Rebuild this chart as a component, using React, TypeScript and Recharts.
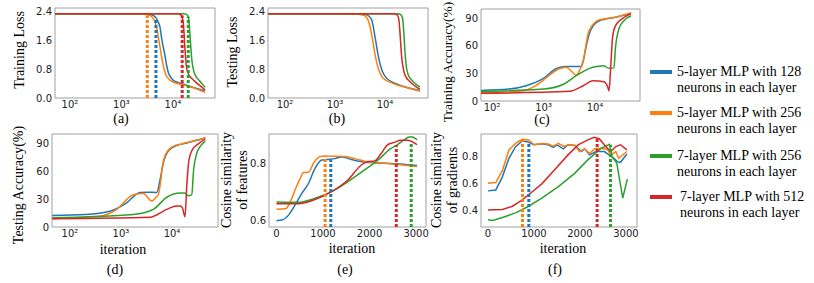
import React from "react";
import { LineChart, Line, XAxis, YAxis, ReferenceLine, ReferenceArea } from "recharts";

type Pt = [number, number];

const seriesNames = [
  ["5-layer MLP with 128", "neurons in each layer"],
  ["5-layer MLP with 256", "neurons in each layer"],
  ["7-layer MLP with 256", "neurons in each layer"],
  ["7-layer MLP with 512", "neurons in each layer"],
];
const seriesColors = ["#1f77b4", "#ff7f0e", "#2ca02c", "#d62728"];

// (a) training loss vs iteration (log x)
const trainLossBlue: Pt[] = [[50, 2.33], [1000, 2.33], [3000, 2.32], [3800, 2.3], [4300, 2.27], [5000, 2.15], [5600, 1.96], [6100, 1.6], [6900, 1.22], [7500, 0.92], [8100, 0.71], [9000, 0.58], [10000, 0.5], [12500, 0.43], [15700, 0.39], [24000, 0.3], [33000, 0.24], [42000, 0.19]];
const trainLossOrange: Pt[] = [[50, 2.33], [1000, 2.33], [2700, 2.32], [3300, 2.3], [3800, 2.26], [4400, 2.13], [4900, 1.9], [5400, 1.55], [6000, 1.15], [6600, 0.85], [7200, 0.66], [8000, 0.55], [9000, 0.48], [11000, 0.42], [15000, 0.37], [24000, 0.29], [33000, 0.22], [42000, 0.16]];
const trainLossGreen: Pt[] = [[50, 2.33], [5000, 2.33], [16000, 2.33], [18000, 2.32], [19500, 2.27], [20500, 2.1], [21500, 1.7], [22500, 1.3], [23500, 1.0], [25000, 0.78], [28000, 0.6], [33000, 0.47], [38000, 0.37], [42000, 0.3]];
const trainLossRed: Pt[] = [[50, 2.33], [5000, 2.33], [12600, 2.33], [14000, 2.31], [15000, 2.24], [15900, 2.05], [16500, 1.75], [17000, 1.4], [17700, 1.1], [18300, 0.85], [19500, 0.7], [21300, 0.6], [25000, 0.5], [28700, 0.42], [35000, 0.32], [42000, 0.22]];
// dotted markers: [iteration, top value], order blue, orange, green, red
const trainLossMarks: Pt[] = [[4670, 2.19], [3170, 2.28], [19800, 2.25], [15100, 2.28]];

// (b) testing loss
const testLossBlue: Pt[] = [[46, 2.33], [1000, 2.33], [3000, 2.32], [4300, 2.3], [5400, 2.16], [6300, 1.7], [7400, 1.14], [8600, 0.78], [10700, 0.55], [17000, 0.39], [31600, 0.27], [50000, 0.2]];
const testLossOrange: Pt[] = [[46, 2.33], [1000, 2.33], [2800, 2.32], [3800, 2.29], [4700, 2.12], [5500, 1.7], [6400, 1.16], [7400, 0.8], [9000, 0.56], [14000, 0.41], [30000, 0.27], [50000, 0.19]];
const testLossGreen: Pt[] = [[46, 2.33], [5000, 2.33], [18000, 2.33], [20500, 2.31], [22500, 2.2], [23800, 1.8], [25000, 1.3], [26500, 0.9], [29000, 0.65], [33000, 0.52], [40000, 0.4], [50000, 0.3]];
const testLossRed: Pt[] = [[46, 2.33], [5000, 2.33], [15000, 2.33], [17500, 2.3], [19000, 2.15], [19500, 1.98], [20500, 1.55], [21500, 1.14], [23000, 0.85], [25000, 0.64], [31600, 0.45], [40000, 0.33], [50000, 0.24]];

// (c) training accuracy
const trainAccBlue: Pt[] = [[61, 11.5], [215, 13], [460, 16.6], [960, 24], [1750, 35], [2700, 37.5], [5400, 37.5], [6000, 45], [6700, 59], [8400, 78], [12000, 87], [25000, 91], [50000, 95]];
const trainAccOrange: Pt[] = [[61, 9], [340, 10.5], [620, 14.8], [960, 22], [2000, 35], [2750, 36.8], [3400, 33], [4300, 28], [5000, 33], [5900, 44], [7600, 76], [12000, 88], [25000, 91], [50000, 96]];
const trainAccGreen: Pt[] = [[61, 10.5], [1000, 13], [2500, 18.5], [4300, 27.5], [9100, 36.6], [14500, 38.4], [18700, 35.5], [23300, 36], [25000, 58], [29000, 78], [36000, 87], [50000, 92.7]];
const trainAccRed: Pt[] = [[61, 8.4], [3200, 10.5], [5900, 16.6], [9100, 22], [15000, 21], [17700, 15], [18700, 11], [20000, 33], [22000, 70], [25000, 82], [33000, 89], [50000, 95]];

// (d) testing accuracy
const testAccBlue: Pt[] = [[45, 12.4], [200, 13.5], [605, 17], [1290, 26], [2350, 37], [3500, 37.5], [5000, 37], [5800, 50], [6700, 68], [8900, 83], [13000, 88], [18600, 90], [45000, 95.6]];
const testAccOrange: Pt[] = [[45, 9], [390, 11.7], [830, 19], [1740, 34.7], [2750, 36], [4000, 28], [4700, 31], [5400, 35], [6100, 52], [6700, 70], [8900, 84], [13000, 88.5], [18600, 90.5], [45000, 96]];
const testAccGreen: Pt[] = [[45, 10], [1740, 13.5], [4300, 19], [7900, 32], [14500, 36.5], [17800, 36.5], [21000, 33.6], [24400, 34.7], [26500, 61], [30500, 79], [36000, 87], [45000, 92]];
const testAccRed: Pt[] = [[45, 9], [3700, 10.6], [7900, 19], [12300, 22.6], [14500, 22.6], [16000, 20.5], [17200, 14], [18000, 11], [19500, 45], [21500, 72], [25000, 83], [30500, 88], [45000, 94.5]];

// (e) cosine similarity of features
const featBlue: Pt[] = [[0, 0.601], [120, 0.603], [260, 0.62], [400, 0.655], [545, 0.695], [690, 0.73], [830, 0.782], [970, 0.81], [1075, 0.812], [1255, 0.815], [1400, 0.821], [1610, 0.812], [1894, 0.803], [2180, 0.8], [2600, 0.797], [2800, 0.794], [3020, 0.791]];
const featOrange: Pt[] = [[0, 0.64], [200, 0.642], [300, 0.667], [400, 0.707], [510, 0.747], [580, 0.767], [690, 0.768], [795, 0.799], [940, 0.822], [1050, 0.824], [1470, 0.822], [1680, 0.815], [1890, 0.806], [2250, 0.8], [2600, 0.795], [3020, 0.788]];
const featGreen: Pt[] = [[0, 0.665], [470, 0.664], [830, 0.678], [1184, 0.701], [1540, 0.736], [1894, 0.776], [2180, 0.81], [2460, 0.85], [2570, 0.86], [2745, 0.88], [2850, 0.89], [2920, 0.89], [3020, 0.88]];
const featRed: Pt[] = [[0, 0.659], [470, 0.659], [830, 0.674], [1184, 0.701], [1540, 0.742], [1823, 0.793], [1965, 0.805], [2110, 0.807], [2250, 0.833], [2390, 0.863], [2530, 0.871], [2670, 0.878], [2810, 0.878], [3020, 0.863]];
const featMarks: Pt[] = [[1167, 0.812], [1045, 0.822], [2895, 0.868], [2574, 0.862]];

// (f) cosine similarity of gradients
const gradBlue: Pt[] = [[0, 0.548], [170, 0.555], [315, 0.654], [455, 0.79], [600, 0.876], [743, 0.918], [850, 0.913], [1000, 0.89], [1170, 0.897], [1310, 0.89], [1420, 0.87], [1500, 0.89], [1640, 0.86], [1740, 0.89], [1890, 0.885], [2030, 0.84], [2100, 0.86], [2210, 0.815], [2350, 0.84], [2530, 0.84], [2630, 0.815], [2740, 0.79], [2810, 0.765], [2880, 0.76], [3020, 0.821]];
const gradOrange: Pt[] = [[0, 0.605], [170, 0.61], [315, 0.7], [455, 0.852], [600, 0.9], [743, 0.93], [885, 0.925], [1000, 0.89], [1170, 0.9], [1310, 0.895], [1420, 0.88], [1530, 0.9], [1640, 0.88], [1780, 0.89], [1890, 0.885], [1990, 0.84], [2100, 0.86], [2210, 0.825], [2320, 0.86], [2460, 0.865], [2600, 0.855], [2670, 0.815], [2780, 0.84], [2840, 0.79], [3020, 0.84]];
const gradGreen: Pt[] = [[0, 0.333], [100, 0.328], [315, 0.35], [600, 0.385], [885, 0.434], [1170, 0.494], [1530, 0.58], [1890, 0.68], [2170, 0.778], [2460, 0.864], [2640, 0.894], [2700, 0.8], [2800, 0.755], [2930, 0.494], [3030, 0.635]];
const gradRed: Pt[] = [[0, 0.407], [315, 0.41], [530, 0.434], [740, 0.48], [955, 0.54], [1170, 0.6], [1460, 0.709], [1740, 0.815], [1960, 0.889], [2170, 0.926], [2310, 0.946], [2420, 0.935], [2560, 0.877], [2670, 0.84], [2780, 0.877], [2880, 0.89], [3020, 0.852]];
const gradMarks: Pt[] = [[888, 0.91], [750, 0.925], [2664, 0.89], [2373, 0.945]];

const logTicks = [100, 1000, 10000];
const lossTicks = [0, 0.8, 1.6, 2.4];
const accTicks = [0, 30, 60, 90];
const iterTicks = [0, 1000, 2000, 3000];
const featTicks = [0.6, 0.8];
const gradTicks = [0.4, 0.6, 0.8];

const SUP: Record<number, string> = { 2: "\u00b2", 3: "\u00b3", 4: "\u2074" };
const logFmt = (v: number) => "10" + (SUP[Math.round(Math.log10(v))] ?? "");
const fmt1 = (v: number) => v.toFixed(1);
const fmt0 = (v: number) => String(v);

const tickStyle = { fontSize: 10, fill: "#222", fontFamily: '"DejaVu Sans", sans-serif' };
const serif = '"Liberation Serif", "Times New Roman", serif';

interface PanelProps {
  box: [number, number, number, number];
  xDomain: [number, number];
  yDomain: [number, number];
  log?: boolean;
  xTicks: number[];
  yTicks: number[];
  yFmt: (v: number) => string;
  series: Pt[][];
  marks?: Pt[];
  curve?: "monotone" | "linear";
}

const Panel = ({ box, xDomain, yDomain, log, xTicks, yTicks, yFmt, series, marks, curve = "monotone" }: PanelProps) => {
  const [x0, y0, x1, y1] = box;
  const w = x1 - x0;
  const h = y1 - y0;
  return (
    <div style={{ position: "absolute", left: x0 - 40, top: y0 - 5 }}>
      <LineChart width={w + 45} height={h + 25} margin={{ top: 5, right: 5, left: 0, bottom: 0 }}>
        <XAxis
          type="number"
          dataKey="x"
          scale={log ? "log" : "linear"}
          domain={xDomain}
          ticks={xTicks}
          allowDataOverflow
          interval={0}
          tickLine={false}
          axisLine={false}
          tickSize={0}
          tickMargin={3}
          height={20}
          tick={tickStyle}
          tickFormatter={log ? logFmt : fmt0}
        />
        <YAxis
          type="number"
          domain={yDomain}
          ticks={yTicks}
          allowDataOverflow
          interval={0}
          tickLine={false}
          axisLine={false}
          tickSize={0}
          tickMargin={3}
          width={40}
          tick={tickStyle}
          tickFormatter={yFmt}
        />
        {series.map((pts, i) => (
          <Line
            key={i}
            data={pts.map(([x, y]) => ({ x, y }))}
            dataKey="y"
            type={curve}
            stroke={seriesColors[i]}
            strokeWidth={1.5}
            dot={false}
            activeDot={false}
            isAnimationActive={false}
          />
        ))}
        {marks &&
          marks.map(([mx, top], i) => (
            <ReferenceLine
              key={"m" + i}
              segment={[{ x: mx, y: yDomain[0] }, { x: mx, y: top }]}
              stroke={seriesColors[i]}
              strokeWidth={3}
              strokeDasharray="3 2"
              ifOverflow="visible"
            />
          ))}
        <ReferenceArea
          x1={xDomain[0]}
          x2={xDomain[1]}
          y1={yDomain[0]}
          y2={yDomain[1]}
          fill="none"
          fillOpacity={0}
          stroke="#a0a0a0"
          strokeWidth={1}
          ifOverflow="visible"
        />
      </LineChart>
    </div>
  );
};

const Txt = ({ x, y, rot, size = 14, children }: { x: number; y: number; rot?: boolean; size?: number; children: React.ReactNode }) => (
  <div
    style={{
      position: "absolute",
      left: x,
      top: y,
      transform: `translate(-50%, -50%)${rot ? " rotate(-90deg)" : ""}`,
      fontFamily: serif,
      fontSize: size,
      lineHeight: "16px",
      whiteSpace: "nowrap",
      textAlign: "center",
      color: "#000",
    }}
  >
    {children}
  </div>
);

const legendY = [72, 113, 156, 197];

export default function App() {
  return (
    <div style={{ position: "absolute", left: 0, top: 0, width: 814, height: 283, background: "#fff", overflow: "hidden" }}>
      <Panel box={[55, 8, 215, 98]} xDomain={[51.2, 65500]} yDomain={[0, 2.49]} log xTicks={logTicks} yTicks={lossTicks} yFmt={fmt1}
        series={[trainLossBlue, trainLossOrange, trainLossGreen, trainLossRed]} marks={trainLossMarks} />
      <Panel box={[268, 8, 428, 98]} xDomain={[45.7, 72400]} yDomain={[0, 2.49]} log xTicks={logTicks} yTicks={lossTicks} yFmt={fmt1}
        series={[testLossBlue, testLossOrange, testLossGreen, testLossRed]} />
      <Panel box={[481, 9, 640, 101]} xDomain={[61, 74800]} yDomain={[0, 100]} log xTicks={logTicks} yTicks={accTicks} yFmt={fmt0}
        series={[trainAccBlue, trainAccOrange, trainAccGreen, trainAccRed]} />
      <Panel box={[52, 134, 218, 227]} xDomain={[44.4, 79800]} yDomain={[0, 100]} log xTicks={logTicks} yTicks={accTicks} yFmt={fmt0}
        series={[testAccBlue, testAccOrange, testAccGreen, testAccRed]} />
      <Panel box={[269, 134, 426, 227]} xDomain={[-160, 3212]} yDomain={[0.579, 0.9]} xTicks={iterTicks} yTicks={featTicks} yFmt={fmt1}
        series={[featBlue, featOrange, featGreen, featRed]} marks={featMarks} />
      <Panel box={[481, 134, 637, 227]} xDomain={[-152, 3240]} yDomain={[0.28, 0.97]} xTicks={iterTicks} yTicks={gradTicks} yFmt={fmt1}
        series={[gradBlue, gradOrange, gradGreen, gradRed]} marks={gradMarks} curve="linear" />

      <Txt x={20} y={50} rot>Training Loss</Txt>
      <Txt x={233} y={52} rot>Testing Loss</Txt>
      <Txt x={448} y={62} rot size={13.5}>Training Accuracy(%)</Txt>
      <Txt x={19} y={185} rot>Testing Accuracy(%)</Txt>
      <Txt x={235} y={180} rot>Cosine similarity<br />of features</Txt>
      <Txt x={445} y={180} rot>Cosine similarity<br />of gradients</Txt>

      <Txt x={121} y={119}>(a)</Txt>
      <Txt x={337} y={119}>(b)</Txt>
      <Txt x={542} y={120}>(c)</Txt>
      <Txt x={123} y={250}>iteration</Txt>
      <Txt x={352} y={249}>iteration</Txt>
      <Txt x={563} y={249}>iteration</Txt>
      <Txt x={115} y={270}>(d)</Txt>
      <Txt x={345} y={270}>(e)</Txt>
      <Txt x={555} y={270}>(f)</Txt>

      {seriesNames.map((lines, i) => (
        <div key={i} style={{ position: "absolute", left: 650, top: legendY[i] - 8 }}>
          <div style={{ position: "absolute", left: 0, top: 6, width: 22, height: 3.5, background: seriesColors[i] }} />
          <div style={{ position: "absolute", left: 27 + (i === 3 ? 3 : 0), top: 0, fontFamily: serif, fontSize: 14, lineHeight: "15.5px", whiteSpace: "nowrap", color: "#000" }}>
            {lines[0]}
            <br />
            {lines[1]}
          </div>
        </div>
      ))}
    </div>
  );
}
